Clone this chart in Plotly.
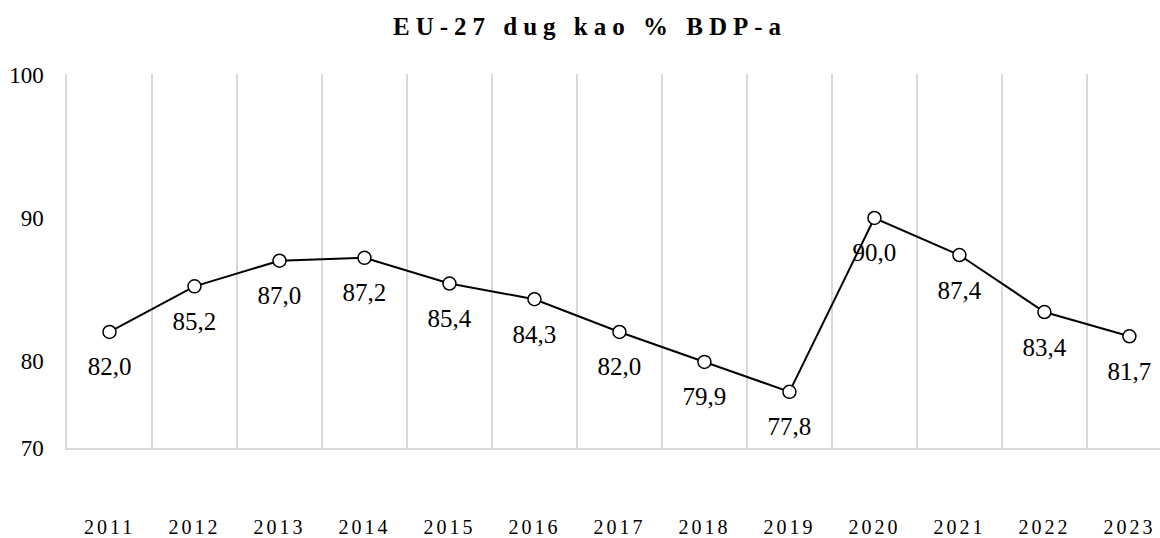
import plotly.graph_objects as go

years = ["2011", "2012", "2013", "2014", "2015", "2016", "2017",
         "2018", "2019", "2020", "2021", "2022", "2023"]
debt_pct_gdp = [82.0, 85.2, 87.0, 87.2, 85.4, 84.3, 82.0,
                79.9, 77.8, 90.0, 87.4, 83.4, 81.7]
y_tick_values = [73.86, 80, 90, 100]
y_tick_labels = ["70", "80", "90", "100"]
title_text = "EU-27 dug kao % BDP-a"

FONT = "Liberation Serif, Times New Roman, serif"
GRID = "#d9d9d9"

value_labels = [f"{v:.1f}".replace(".", ",") for v in debt_pct_gdp]

fig = go.Figure()
# data labels (invisible large markers push the text below the points)
fig.add_trace(go.Scatter(
    x=years, y=debt_pct_gdp, mode="markers+text",
    text=value_labels, textposition="bottom center",
    textfont=dict(family=FONT, size=25, color="#000000"),
    marker=dict(size=38, opacity=0),
    hoverinfo="skip", showlegend=False, cliponaxis=False,
))
fig.add_trace(go.Scatter(
    x=years, y=debt_pct_gdp, mode="lines+markers",
    line=dict(color="#000000", width=2),
    marker=dict(symbol="circle", size=13, color="#ffffff",
                line=dict(color="#000000", width=1.5)),
    hoverinfo="x+y", showlegend=False, cliponaxis=False,
))

fig.update_layout(
    width=1160, height=538,
    margin=dict(l=67, r=0, t=74, b=90, autoexpand=False),
    paper_bgcolor="#ffffff", plot_bgcolor="#ffffff",
    title=dict(
        text=f'<span style="letter-spacing:6px">{title_text}</span>',
        x=0.5 + 10 / 1160, xanchor="center", y=1 - 26 / 538, yanchor="middle",
        font=dict(family=FONT, size=25, color="#000000", weight="bold"),
    ),
    font=dict(family=FONT, color="#000000"),
)

fig.update_xaxes(
    type="category", range=[-0.5, 12.36], automargin=False,
    tickson="boundaries", showgrid=True, gridcolor=GRID, gridwidth=1.5,
    showline=True, linecolor=GRID, linewidth=1.5,
    ticks="", tickvals=years,
    ticktext=[f'<span style="letter-spacing:3px">{y}</span>' for y in years],
    tickfont=dict(family=FONT, size=20, color="#000000"),
    ticklabelstandoff=60,
)
fig.update_yaxes(
    range=[73.86, 100.1], automargin=False, showgrid=False, zeroline=False,
    showline=True, linecolor=GRID, linewidth=1.5,
    tickvals=y_tick_values, ticktext=y_tick_labels, ticks="",
    tickfont=dict(family=FONT, size=23, color="#000000"),
    ticklabelstandoff=17,
)

fig.write_html(
    "out.html",
    config={"displayModeBar": False},
    post_script="document.body.style.margin='0';document.body.style.overflow='hidden';",
)
